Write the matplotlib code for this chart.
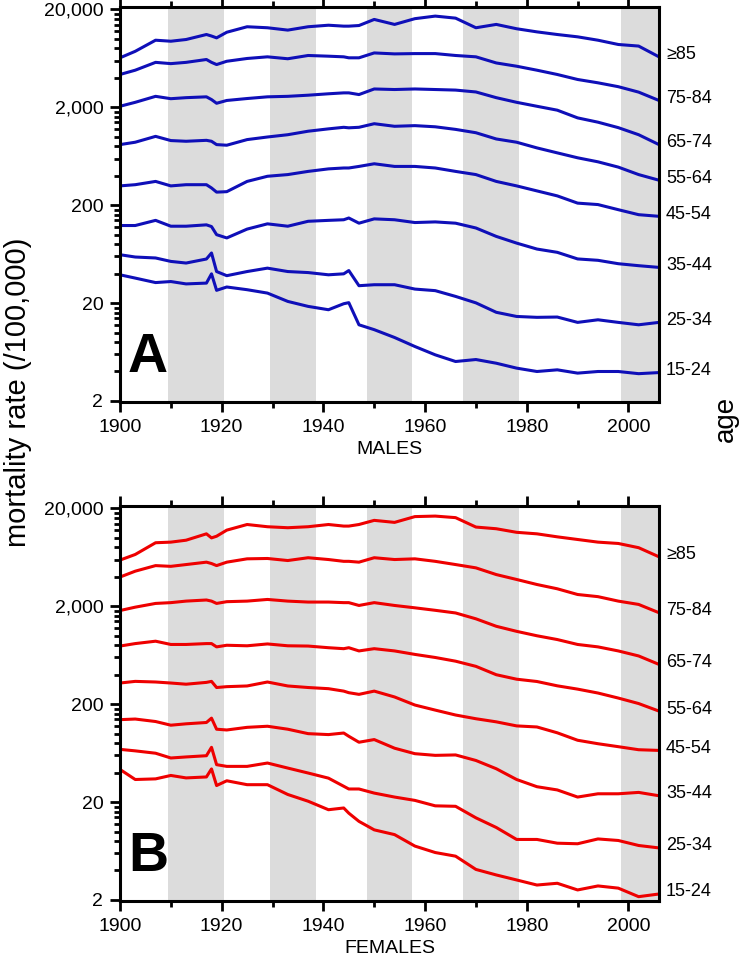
import matplotlib
matplotlib.use('Agg')
import matplotlib.pyplot as plt
from matplotlib.ticker import FixedLocator, FuncFormatter, NullFormatter

plt.rcParams['font.family'] = ['Liberation Sans', 'DejaVu Sans']

# ── Data ─────────────────────────────────────────────────────────────────────
YEARS = [1900, 1903, 1907, 1910, 1913, 1917, 1918, 1919, 1921, 1925, 1929,
         1933, 1937, 1941, 1944, 1945, 1947, 1950, 1954, 1958, 1962, 1966,
         1970, 1974, 1978, 1982, 1986, 1990, 1994, 1998, 2002, 2006]
AGE_GROUPS = ['≥85', '75-84', '65-74', '55-64', '45-54', '35-44', '25-34', '15-24']

# males, deaths per 100,000
m85 = [6410, 7470, 9700, 9470, 9860, 11090, 10700, 10250, 11700, 13310, 13000,
       12300, 13310, 13800, 13500, 13500, 13700, 15810, 14060, 16100, 17100, 16300,
       13000, 14060, 12700, 11800, 11090, 10500, 9700, 8770, 8450, 6560]
m75 = [4330, 4790, 5760, 5590, 5760, 6160, 5760, 5470, 5910, 6310, 6560,
       6270, 6770, 6660, 6560, 6410, 6410, 7190, 7030, 7080, 7080, 6770,
       6560, 5680, 5260, 4790, 4330, 3850, 3560, 3250, 2860, 2350]
m65 = [2050, 2250, 2590, 2450, 2510, 2560, 2400, 2200, 2350, 2460, 2560,
       2590, 2660, 2750, 2810, 2810, 2700, 3080, 3040, 3080, 3040, 3000,
       2870, 2510, 2250, 2050, 1870, 1560, 1410, 1240, 1050, 832]
m55 = [832, 880, 1010, 915, 900, 920, 900, 832, 820, 936, 995,
       1050, 1140, 1205, 1250, 1235, 1250, 1360, 1280, 1300, 1265, 1190,
       1100, 950, 880, 770, 685, 610, 555, 490, 411, 360]
m45 = [315, 324, 350, 315, 324, 324, 300, 272, 275, 350, 395,
       411, 443, 470, 480, 480, 498, 530, 498, 498, 480, 443,
       411, 350, 315, 280, 249, 210, 203, 180, 160, 154]
m35 = [124, 124, 140, 122, 122, 126, 121, 100, 92.6, 114, 129,
       122, 137, 140, 142, 148, 131, 145, 142, 133, 135, 131,
       117, 96, 82, 71.3, 66, 56.5, 54.7, 50.5, 48.2, 46.3]
m25 = [62.4, 59.1, 57.8, 53.3, 51.3, 56.4, 65, 42, 38.1, 42, 45.5,
       42, 41, 38.9, 39.8, 43, 30.1, 30.8, 30.8, 27.8, 26.8, 23.4,
       20.1, 16.1, 14.6, 14.3, 14.4, 12.7, 13.5, 12.7, 12.0, 12.7]
m15 = [38.9, 36, 32.4, 33.2, 31.4, 32, 39.8, 27, 29.2, 27.4, 25.3,
       20.8, 18.5, 17.1, 19.7, 20.2, 12, 10.7, 8.9, 7.2, 5.92, 5.06,
       5.3, 4.86, 4.33, 4.0, 4.16, 3.85, 4.0, 4.0, 3.8, 3.9]

# females
f85 = [5930, 6770, 8920, 9050, 9470, 11000, 10000, 10400, 12000, 13700, 13000,
       12700, 13000, 13700, 13200, 13200, 13700, 15100, 14400, 16500, 16700, 16100,
       12900, 12400, 11400, 11000, 10250, 9630, 9050, 8770, 7940, 6410]
f75 = [3980, 4570, 5210, 5120, 5340, 5650, 5470, 5210, 5650, 6110, 6160,
       5870, 6270, 6010, 5760, 5760, 5650, 6270, 6010, 6110, 5760, 5340,
       4940, 4220, 3760, 3340, 3020, 2640, 2510, 2260, 2090, 1720]
f65 = [1810, 1960, 2140, 2180, 2260, 2320, 2260, 2140, 2230, 2260, 2350,
       2260, 2210, 2210, 2180, 2180, 2040, 2180, 2040, 1930, 1820, 1710,
       1490, 1250, 1110, 1000, 915, 815, 770, 700, 622, 510]
f55 = [785, 832, 880, 815, 815, 832, 832, 770, 800, 790, 825,
       790, 785, 755, 738, 755, 700, 738, 700, 645, 600, 550,
       487, 400, 360, 341, 308, 285, 260, 231, 203, 170]
f45 = [329, 342, 337, 329, 320, 334, 342, 296, 302, 307, 337,
       307, 296, 288, 272, 262, 252, 272, 237, 196, 174, 155,
       142, 132, 120, 117, 102, 85.6, 78.9, 73.6, 68.5, 67.4]
f35 = [139, 141, 133, 122, 126, 130, 144, 111, 109, 116, 119,
       111, 100, 97.8, 101.5, 94, 81.7, 87, 71, 62.4, 60, 60.6,
       53.2, 43.8, 34, 28.7, 26.6, 22.5, 24.3, 24.3, 25.1, 23.2]
f25 = [69.1, 66.7, 63.1, 56.4, 57.8, 59.5, 72.5, 48.2, 46.3, 46.3, 50.1,
       44.5, 39.6, 35.1, 29, 27.2, 27.2, 24.7, 22.5, 20.8, 18.3, 18.1,
       13.8, 11, 8.3, 8.3, 7.6, 7.5, 8.4, 8.1, 7.2, 6.8]
f15 = [43.1, 34, 34.5, 37.4, 35.3, 36.1, 43.6, 29.5, 33, 30.1, 30.1,
       23.9, 20.4, 16.7, 17.4, 15.4, 12.7, 10.4, 9.3, 7.1, 6.1, 5.6,
       4.1, 3.6, 3.2, 2.84, 2.96, 2.53, 2.78, 2.64, 2.16, 2.3]

# shaded periods
BAND_START = [1909.5, 1929.5, 1948.5, 1967.5, 1998.5]
BAND_END = [1920.5, 1938.5, 1957.5, 1978.5, 2006]

Y_MAJOR = [2, 20, 200, 2000, 20000]
Y_MINOR = [2 * 10**e * k for e in range(0, 4) for k in range(2, 10)]

# ── Figure ───────────────────────────────────────────────────────────────────
fig = plt.figure(figsize=(7.42, 9.57), dpi=100)
axA = fig.add_axes([0.1617, 0.5799, 0.7264, 0.4124])
axB = fig.add_axes([0.1617, 0.0585, 0.7264, 0.4124])


def draw_panel(ax, series, color, letter, sex):
    for s, e in zip(BAND_START, BAND_END):
        ax.axvspan(s, e, color='#dcdcdc', lw=0, zorder=0)
    for name, vals in zip(AGE_GROUPS, series):
        ax.plot(YEARS, vals, color=color, lw=2.2, zorder=2)
        ax.annotate(name, xy=(YEARS[-1], vals[-1]), xytext=(5, 1.5),
                    textcoords='offset points', ha='left', va='center',
                    fontsize=13, annotation_clip=False)
    ax.set_yscale('log')
    ax.set_xlim(1900, 2006)
    ax.set_ylim(1.95, 21000)

    ax.yaxis.set_major_locator(FixedLocator(Y_MAJOR))
    ax.yaxis.set_minor_locator(FixedLocator(Y_MINOR))
    ax.yaxis.set_major_formatter(FuncFormatter(lambda v, p: f'{v:,.0f}'))
    ax.yaxis.set_minor_formatter(NullFormatter())
    ax.xaxis.set_major_locator(FixedLocator(range(1900, 2001, 20)))
    ax.xaxis.set_minor_locator(FixedLocator(range(1910, 2001, 20)))

    ax.tick_params(axis='both', which='both', direction='out', width=2,
                   labelsize=14, colors='black')
    ax.tick_params(axis='both', which='major', length=7, pad=5)
    ax.tick_params(axis='both', which='minor', length=4)
    ax.tick_params(axis='x', which='both', top=True, bottom=True)
    ax.tick_params(axis='y', which='both', left=True, right=False)
    for sp in ax.spines.values():
        sp.set_linewidth(2.2)

    ax.text(0.015, 0.075, letter, transform=ax.transAxes, fontsize=40,
            fontweight='bold', ha='left', va='baseline')
    ax.set_xlabel(sex, fontsize=14)
    ax.xaxis.set_label_coords(0.5, -0.098)


draw_panel(axA, [m85, m75, m65, m55, m45, m35, m25, m15], '#0f0fb8', 'A', 'MALES')
draw_panel(axB, [f85, f75, f65, f55, f45, f35, f25, f15], '#ee0000', 'B', 'FEMALES')

fig.text(18 / 742, 1 - 392 / 957, 'mortality rate (/100,000)', rotation=90,
         ha='center', va='center', fontsize=21)
fig.text(726 / 742, 1 - 419 / 957, 'age', rotation=90,
         ha='center', va='center', fontsize=20)

fig.savefig('out.png', dpi=100)
